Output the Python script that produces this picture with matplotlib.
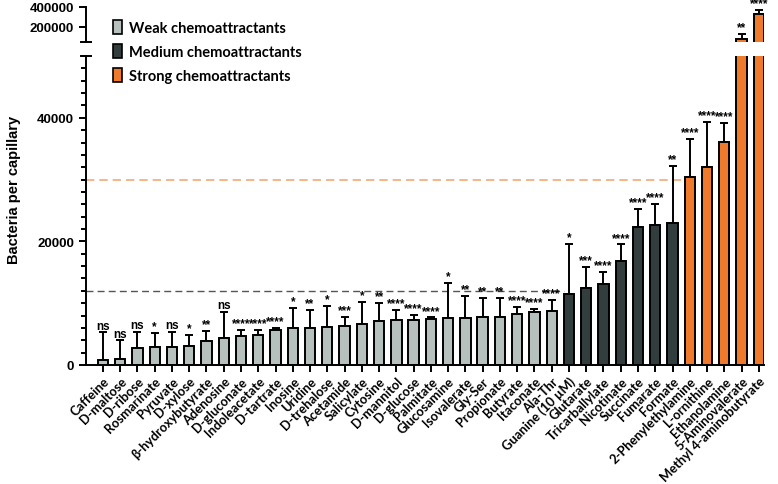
import matplotlib
import matplotlib.pyplot as plt
from matplotlib.patches import Patch
from matplotlib.ticker import MultipleLocator, FixedLocator
import numpy as np

matplotlib.use('Agg')

# compounds, weak -> medium -> strong
names = ['Caffeine', 'D-maltose', 'D-ribose', 'Rosmarinate', 'Pyruvate', 'D-xylose',
         'β-hydroxybutyrate', 'Adenosine', 'D-gluconate', 'Indoleacetate', 'D-tartrate',
         'Inosine', 'Uridine', 'D-trehalose', 'Acetamide', 'Salicylate', 'Cytosine',
         'D-mannitol', 'D-glucose', 'Palmitate', 'Glucosamine', 'Isovalerate', 'Gly-Ser',
         'Propionate', 'Butyrate', 'Itaconate', 'Ala-Thr',
         'Guanine (10 µM)', 'Glutarate', 'Tricarballylate', 'Nicotinate', 'Succinate',
         'Fumarate', 'Formate',
         '2-Phenylethylamine', 'L-ornithine', 'Ethanolamine', '5-Aminovalerate',
         'Methyl 4-aminobutyrate']
means = [850, 950, 2750, 2850, 2850, 3050, 3850, 4350, 4650, 4800, 5700, 5950, 6000,
         6100, 6250, 6600, 7100, 7300, 7300, 7450, 7550, 7550, 7800, 7800, 8250, 8650,
         8800, 11500, 12450, 13050, 16750, 22350, 22650, 22900, 30450, 32050, 36100,
         85000, 330000]
errors = [4450, 3050, 2650, 2280, 2550, 1810, 1710, 4290, 970, 820, 350, 3230, 2960,
          3510, 1530, 3660, 2900, 1660, 800, 250, 5730, 3580, 3050, 3050, 1090, 420,
          1780, 8150, 3420, 2020, 2750, 2920, 3370, 9330, 6100, 7300, 3040,
          50000, 40000]
signif = ['ns', 'ns', 'ns', '*', 'ns', '*', '**', 'ns', '****', '****', '****', '*', '**',
          '*', '***', '*', '**', '****', '****', '****', '*', '**', '**', '**', '****',
          '****', '****', '*', '***', '****', '****', '****', '****', '**', '****',
          '****', '****', '**', '****']
groups = ['weak'] * 27 + ['medium'] * 7 + ['strong'] * 5
group_labels = {'weak': 'Weak chemoattractants', 'medium': 'Medium chemoattractants',
                'strong': 'Strong chemoattractants'}
thresholds = [12000, 30000]

colors = {'weak': '#b6c0bd', 'medium': '#323d3d', 'strong': '#ef7a2b'}
bar_colors = np.array([colors[g] for g in groups])
x = np.arange(len(names))
means = np.array(means)
errors = np.array(errors)
BREAK = 50000

fig = plt.figure(figsize=(7.78, 4.85), dpi=100)
left, right = 86 / 778, 764 / 778
ax_top = fig.add_axes([left, 1 - 43 / 485, right - left, 35 / 485])
ax = fig.add_axes([left, 1 - 366 / 485, right - left, 309 / 485])

tall = means > BREAK
for a, sel in ((ax, np.ones(len(x), bool)), (ax_top, tall)):
    a.bar(x[sel], means[sel], width=0.6, color=bar_colors[sel], edgecolor='black',
          linewidth=1.4, zorder=2)
    a.errorbar(x[sel], means[sel], yerr=[np.zeros(sel.sum()), errors[sel]], fmt='none',
               ecolor='black', elinewidth=1.4, capsize=3, capthick=1.4, zorder=1)
    a.set_xlim(-0.98, len(x) - 0.7)
    for s in ('top', 'right'):
        a.spines[s].set_visible(False)
    a.spines['left'].set_linewidth(1.4)
    a.tick_params(axis='y', width=1.4, length=5, labelsize=9.5)

ax.set_ylim(0, BREAK)
ax.yaxis.set_major_locator(FixedLocator([0, 20000, 40000]))
ax.yaxis.set_minor_locator(MultipleLocator(2000))
ax.tick_params(axis='y', which='minor', width=1.4, length=3.5)
ax.spines['bottom'].set_linewidth(1.4)
ax.set_xticks(x)
ax.set_xticklabels(names, rotation=45, ha='right', rotation_mode='anchor',
                   fontsize=9.3, fontweight='bold', family=['Lato', 'DejaVu Sans'])
ax.tick_params(axis='x', width=1.4, length=5, pad=2)
ax.set_yticklabels(['0', '20000', '40000'], fontweight='bold', family='Liberation Sans')

ax_top.set_ylim(BREAK, 400000)
ax_top.yaxis.set_major_locator(FixedLocator([200000, 400000]))
ax_top.set_yticklabels(['200000', '400000'], fontweight='bold', family='Liberation Sans')
ax_top.spines['bottom'].set_visible(False)
ax_top.set_xticks([])

# break markers on the y axis
d = 0.007
ax.plot([-d, d], [1, 1], transform=ax.transAxes, color='black', lw=1.4, clip_on=False)
ax_top.plot([-d, d], [0, 0], transform=ax_top.transAxes, color='black', lw=1.4,
            clip_on=False)

# threshold lines
ax.plot([-0.98, 26.7], [thresholds[0]] * 2, ls=(0, (5, 3)), color='#555555', lw=1,
        zorder=0)
ax.plot([-0.98, 33.7], [thresholds[1]] * 2, ls=(0, (5, 3)), color='#f5a878', lw=1.2,
        zorder=0)

# significance labels
for i in range(len(x)):
    target = ax_top if tall[i] else ax
    target.annotate(signif[i], (x[i], means[i] + errors[i]), xytext=(0, 0.5),
                    textcoords='offset points', ha='center', va='bottom',
                    fontsize=8.5, fontweight='bold', family='Liberation Sans',
                    annotation_clip=False)

fig.text(14 / 778, 1 - 190 / 485, 'Bacteria per capillary', rotation=90, ha='center',
         va='center', fontsize=10.5, fontweight='bold', family='Liberation Sans')

handles = [Patch(facecolor=colors[g], edgecolor='black', linewidth=1.2) for g in colors]
leg = fig.legend(handles, [group_labels[g] for g in colors], loc='upper left',
                 bbox_to_anchor=(100 / 778, 1 - 8 / 485), frameon=False,
                 handlelength=0.6, handleheight=1.1, handletextpad=0.5,
                 labelspacing=0.6, prop={'family': 'Lato', 'weight': 'bold', 'size': 10.5})

fig.savefig('out.png', dpi=100)
